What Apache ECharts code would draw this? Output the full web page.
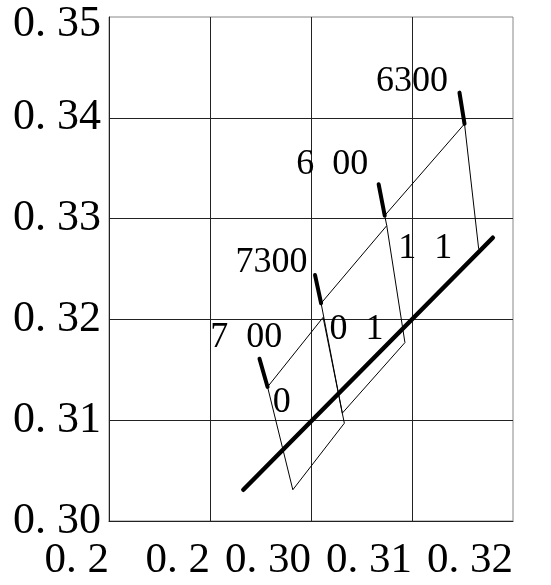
<!DOCTYPE html>
<html>
<head>
<meta charset="utf-8">
<title>chromaticity bins</title>
<script src="https://cdn.jsdelivr.net/npm/echarts@6/dist/echarts.min.js"></script>
<style>
  html, body { margin: 0; padding: 0; background: #fff; }
  #chart { width: 551px; height: 585px; }
</style>
</head>
<body>
<div id="chart"></div>
<script>
  // tick labels, as printed on the picture
  const xTickLabels = ['0. 2', '0. 2', '0. 30', '0. 31', '0. 32']
  const yTickLabels = ['0. 30', '0. 31', '0. 32', '0. 33', '0. 34', '0. 35']

  // quadrangles (x, y)
  const quadA = [[0.2957, 0.3133], [0.2982, 0.3031], [0.3033, 0.3097], [0.3012, 0.3202], [0.2957, 0.3133]]
  const quadB = [[0.3010, 0.3216], [0.3031, 0.3107], [0.3093, 0.3177], [0.3075, 0.3293], [0.3010, 0.3216]]
  const quadC = [[0.3166, 0.3270], [0.3152, 0.3394], [0.3073, 0.3303], [0.3075, 0.3293]]

  // thick isotherm ends
  const tickA = [[0.2949, 0.3161], [0.2957, 0.3133]]
  const tickB = [[0.3004, 0.3244], [0.3010, 0.3216]]
  const tickC = [[0.3067, 0.3334], [0.3073, 0.3303]]
  const tickD = [[0.3147, 0.3425], [0.3152, 0.3394]]

  // planckian locus segment
  const locus = [[0.2933, 0.3031], [0.3180, 0.3281]]

  // text on the plot
  const noteNames = ['6300', '6  00', '7300', '7  00', '0', '0  1', '1  1']
  const notePoints = [[0.3100, 0.3436], [0.3021, 0.3354], [0.2961, 0.3256], [0.2936, 0.3182],
    [0.2971, 0.3118], [0.3045, 0.3190], [0.3113, 0.3270]]

  const serif = '"Liberation Serif", "DejaVu Serif", serif'

  function thin(data) {
    return {
      type: 'line', data: data, symbol: 'none', silent: true,
      lineStyle: { color: '#000', width: 1 }
    }
  }

  function thick(data, width) {
    return {
      type: 'line', data: data, symbol: 'none', silent: true,
      lineStyle: { color: '#000', width: width, cap: 'round' }
    }
  }

  const chart = echarts.init(document.getElementById('chart'))
  chart.setOption({
    animation: false,
    grid: {
      left: 109, right: 38, top: 17, bottom: 64,
      outerBoundsMode: 'none',
      show: true, borderColor: '#888', borderWidth: 1
    },
    xAxis: {
      type: 'value', min: 0.28, max: 0.32, interval: 0.01,
      axisLine: { show: true, lineStyle: { color: '#222' } },
      axisTick: { show: false },
      splitLine: { show: true, showMaxLine: false, lineStyle: { color: '#222' } },
      axisLabel: {
        margin: 18, align: 'right',
        fontFamily: serif, fontSize: 43, color: '#000',
        formatter: (v, i) => xTickLabels[i]
      }
    },
    yAxis: {
      type: 'value', min: 0.30, max: 0.35, interval: 0.01,
      axisLine: { show: true, lineStyle: { color: '#222' } },
      axisTick: { show: false },
      splitLine: { show: true, showMaxLine: false, lineStyle: { color: '#222' } },
      axisLabel: {
        margin: 8,
        fontFamily: serif, fontSize: 44, color: '#000',
        // top label sits a little lower in the picture
        formatter: (v, i) => i === yTickLabels.length - 1 ? '{t|' + yTickLabels[i] + '}' : yTickLabels[i],
        rich: {
          t: { fontFamily: serif, fontSize: 44, color: '#000', padding: [14, 0, 0, 0] }
        }
      }
    },
    series: [
      thin(quadA), thin(quadB), thin(quadC),
      thick(tickA, 4), thick(tickB, 4), thick(tickC, 4), thick(tickD, 4),
      thick(locus, 4.5),
      {
        type: 'scatter', silent: true, symbolSize: 0,
        itemStyle: { opacity: 1 },
        data: notePoints.map((p, i) => ({ name: noteNames[i], value: p })),
        label: {
          show: true, position: [0, 0], align: 'center', verticalAlign: 'middle',
          formatter: p => p.name, opacity: 1,
          fontFamily: serif, fontSize: 36, color: '#000', textBorderWidth: 0
        }
      }
    ]
  })
</script>
</body>
</html>
